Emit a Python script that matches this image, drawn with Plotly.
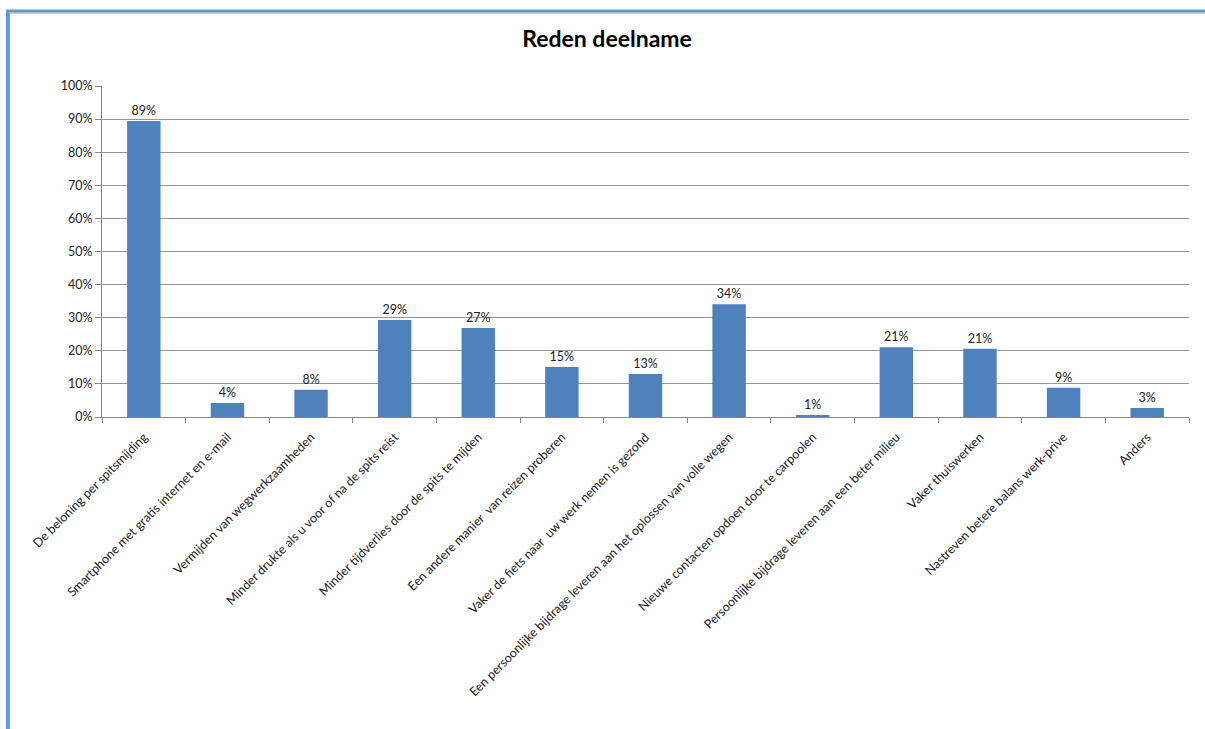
import plotly.graph_objects as go

categories = [
    "De beloning per spitsmijding",
    "Smartphone met gratis internet en e-mail",
    "Vermijden van wegwerkzaamheden",
    "Minder drukte als u voor of na de spits reist",
    "Minder tijdverlies door de spits te mijden",
    "Een andere manier  van reizen proberen",
    "Vaker de fiets naar  uw werk nemen is gezond",
    "Een persoonlijke bijdrage leveren aan het oplossen van volle wegen",
    "Nieuwe contacten opdoen door te carpoolen",
    "Persoonlijke bijdrage leveren aan een beter milieu",
    "Vaker thuiswerken",
    "Nastreven betere balans werk-prive",
    "Anders",
]
values = [0.894, 0.042, 0.082, 0.293, 0.269, 0.151, 0.130, 0.341, 0.006, 0.211, 0.206, 0.088, 0.027]

W, H = 1205, 729
L, R, T, B = 102, 16, 86, 312
pw, ph = W - L - R, H - T - B

def px(x):
    return (x - L) / pw

def py(y):
    return (H - B - y) / ph

font = "Lato, Calibri, 'Open Sans', sans-serif"

fig = go.Figure(go.Bar(
    x=categories, y=values,
    marker=dict(color="#4f81bd", line=dict(width=0)),
    width=0.4,
    texttemplate="%{y:.0%}", textposition="outside",
    textfont=dict(family=font, size=12.5, color="#222"),
    cliponaxis=False,
))

shapes = [
    dict(type="line", xref="paper", yref="paper", x0=px(7.5), x1=px(7.5), y0=py(10), y1=py(740),
         line=dict(color="#5b9bd5", width=3)),
    dict(type="line", xref="paper", yref="paper", x0=px(6), x1=px(1215), y0=py(11), y1=py(11),
         line=dict(color="#5b9bd5", width=3)),
    dict(type="line", xref="paper", yref="paper", x0=px(9.5), x1=px(9.5), y0=py(13), y1=py(740),
         line=dict(color="#a0a0a0", width=1)),
    dict(type="line", xref="paper", yref="paper", x0=px(9.5), x1=px(1215), y0=py(13), y1=py(13),
         line=dict(color="#a0a0a0", width=1)),
]

fig.update_layout(
    width=W, height=H,
    margin=dict(l=L, r=R, t=T, b=B),
    paper_bgcolor="white", plot_bgcolor="white",
    title=dict(text="<b>Reden deelname</b>", x=607 / W, xanchor="center",
               y=1 - 39 / H, yanchor="middle",
               font=dict(family=font, size=23, color="#000")),
    showlegend=False,
    shapes=shapes,
    xaxis=dict(
        type="category", range=[-0.5, 12.5],
        tickangle=-45, tickson="boundaries", ticks="outside", ticklen=5,
        ticklabelstandoff=7,
        tickcolor="#868686", showline=True, linecolor="#868686", linewidth=1,
        tickfont=dict(family=font, size=12.5, color="#222"),
        showgrid=False, automargin=False,
    ),
    yaxis=dict(
        range=[0, 1], dtick=0.1, tickformat=".0%",
        ticks="outside", ticklen=6, tickcolor="#868686",
        showline=True, linecolor="#868686", linewidth=1,
        showgrid=True, gridcolor="#969696", gridwidth=1,
        tickfont=dict(family=font, size=12.5, color="#222"),
        zeroline=False, automargin=False,
    ),
)

fig.write_html("out.html")
